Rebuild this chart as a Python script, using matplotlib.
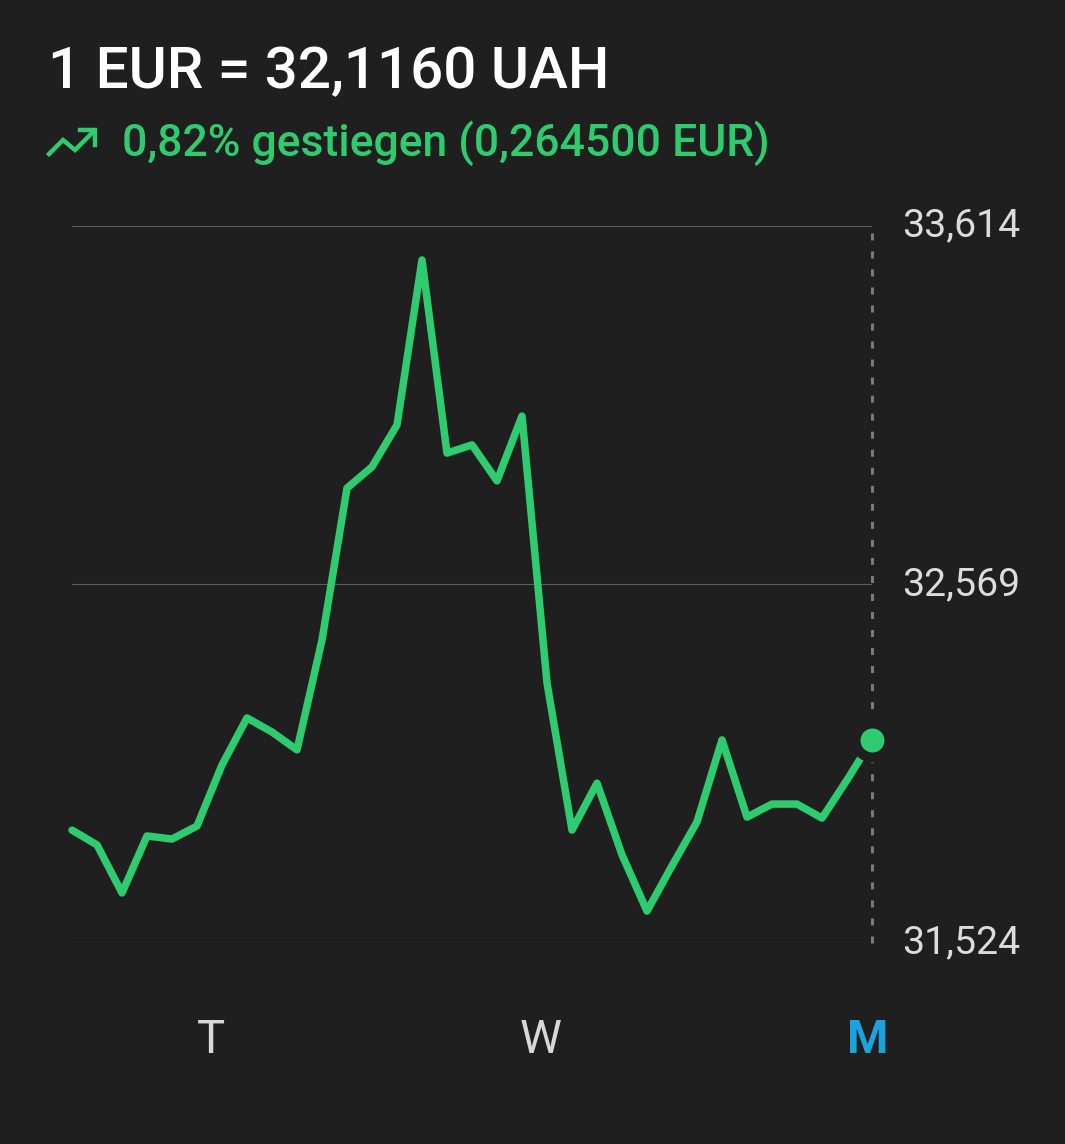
import matplotlib
matplotlib.use("Agg")
import matplotlib.pyplot as plt

# EUR -> UAH
rates = [31.853, 31.810, 31.670, 31.836, 31.827, 31.865, 32.043, 32.180, 32.139, 32.087,
         32.407, 32.850, 32.912, 33.034, 33.515, 32.952, 32.976, 32.871, 33.060, 32.282,
         31.853, 31.990, 31.781, 31.617, 31.749, 31.877, 32.116, 31.891, 31.929, 31.929,
         31.888, 31.999, 32.116]
y_ticks = [31.524, 32.569, 33.614]
y_labels = ["31,524", "32,569", "33,614"]
day_pos = [5.56, 18.76, 31.84]
day_labels = ["T", "W", "M"]
title = "1 EUR = 32,1160 UAH"
subtitle = "0,82% gestiegen (0,264500 EUR)"

BG = "#1f1f1f"
GREEN = "#2ecc6e"
W, H = 1065, 1144

plt.rcParams['font.family'] = ['Roboto', 'DejaVu Sans']
fig = plt.figure(figsize=(W / 100, H / 100), dpi=100, facecolor=BG)
ax = fig.add_axes([72 / W, 1 - 943 / H, 800 / W, 717 / H])
ax.set_facecolor(BG)

x = list(range(len(rates)))
ax.set_xlim(0, len(rates) - 1)
ax.set_ylim(y_ticks[0], y_ticks[-1])

for yv in y_ticks:
    ax.axhline(yv, color="#5e5e5e", lw=0.8, zorder=1)
ax.axvline(len(rates) - 1, color="#7a7a7a", lw=2.2, linestyle=(0, (2.3, 3.6)), zorder=1,
           clip_on=False)

ax.plot(x, rates, color=GREEN, lw=5.4, solid_joinstyle="round", solid_capstyle="round",
        clip_on=False, zorder=3)
ax.plot(x[-1], rates[-1], "o", ms=24.5, mfc=GREEN, mec=BG, mew=7.2, clip_on=False, zorder=4)

for s in ax.spines.values():
    s.set_visible(False)
ax.set_yticks([])
ax.set_xticks([])

for yv, lab in zip(y_ticks, y_labels):
    fig.text(902 / W, 1 - (226 + (y_ticks[-1] - yv) / (y_ticks[-1] - y_ticks[0]) * 717) / H, lab,
             color="#dcdcdc", fontsize=28.3, va="center", ha="left")

for xp, lab in zip(day_pos, day_labels):
    last = lab == day_labels[-1]
    ax.text(xp, -0.135, lab, transform=ax.get_xaxis_transform(), ha="center", va="center",
            fontsize=34, color="#1aa3df" if last else "#d8d8d8",
            fontweight="bold" if last else "normal")

fig.text(48 / W, 1 - 88 / H, title, color="white", fontsize=42, fontweight="medium",
         ha="left", va="baseline")
fig.text(122 / W, 1 - 156 / H, subtitle, color=GREEN, fontsize=32, fontweight="medium",
         ha="left", va="baseline")

# trending-up icon
ix = [49, 63, 75, 93]
iy = [154, 140, 150, 132]
fig.add_artist(plt.Line2D([v / W for v in ix], [1 - v / H for v in iy], color=GREEN, lw=3.2,
                          solid_joinstyle="miter", transform=fig.transFigure))
fig.add_artist(plt.Line2D([80 / W, 95 / W, 95 / W], [1 - 130 / H, 1 - 130 / H, 1 - 145 / H],
                          color=GREEN, lw=3.2, solid_joinstyle="miter", transform=fig.transFigure))

fig.savefig("out.png", dpi=100, facecolor=BG)
